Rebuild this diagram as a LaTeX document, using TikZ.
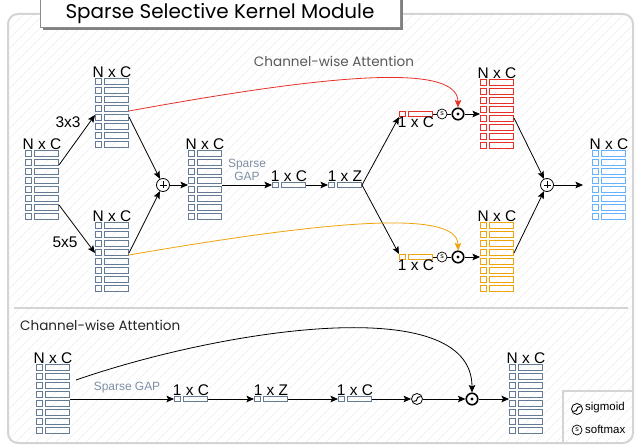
\documentclass[tikz,border=0pt]{standalone}
\usepackage{fontspec}
\setmainfont{Liberation Sans}
\newfontfamily\handfont{Poppins}
\usetikzlibrary{arrows.meta}

\definecolor{slate}{HTML}{657B93}
\definecolor{attnred}{HTML}{E8302A}
\definecolor{attnorange}{HTML}{F0A30A}
\definecolor{attnblue}{HTML}{66B2FF}
\definecolor{framegray}{HTML}{D4D4D4}
\definecolor{gaptext}{HTML}{7D8FA3}
\definecolor{hatch}{HTML}{EFEFEF}

\tikzset{
  lbl/.style={font=\fontsize{15.5}{17}\selectfont, inner sep=0pt},
  gaplbl/.style={font=\fontsize{12}{13.5}\selectfont, inner sep=0pt, text=gaptext, align=center},
  handlbl/.style={font=\handfont\fontsize{13.6}{15}\selectfont, inner sep=0pt},
  legendlbl/.style={font=\fontsize{11.5}{13}\selectfont, inner sep=0pt, anchor=west},
  % a feature map: eight rows, each a small index square and a long channel bar
  tensor/.style={minimum width=34bp, minimum height=70bp, inner sep=0pt, outer sep=0pt,
    label distance=3bp,
    path picture={
      \foreach \i in {0,...,7}{
        \draw[#1, line width=1.15bp]
          ([shift={(0.6bp,{-0.6bp-\i*9bp})}]path picture bounding box.north west)
          rectangle ++(5.9bp,-5.9bp);
        \draw[#1, line width=1.15bp]
          ([shift={(9.5bp,{-0.6bp-\i*9bp})}]path picture bounding box.north west)
          rectangle ++(23.9bp,-5.9bp);
      }}},
  % a single pooled vector
  vec/.style={minimum width=34bp, minimum height=6bp, inner sep=0pt, outer sep=0pt,
    label distance=5bp,
    path picture={
      \draw[#1, line width=1.15bp]
        ([shift={(0.6bp,-0.6bp)}]path picture bounding box.north west) rectangle ++(5.9bp,-4.8bp);
      \draw[#1, line width=1.15bp]
        ([shift={(9.5bp,-0.6bp)}]path picture bounding box.north west) rectangle ++(23.9bp,-4.8bp);
    }},
  link/.style={line width=0.8bp},
  arr/.style={line width=0.8bp, -{Stealth[length=7.5bp,width=6.5bp,inset=1.5bp]}},
  plusop/.style={circle, draw, line width=0.8bp, minimum size=13bp, inner sep=0pt, fill=white,
    path picture={\draw[black, line width=0.7bp]
      ([xshift=-3.5bp]path picture bounding box.center) -- ([xshift=3.5bp]path picture bounding box.center)
      ([yshift=-3.5bp]path picture bounding box.center) -- ([yshift=3.5bp]path picture bounding box.center);}},
  dotop/.style={circle, draw, line width=1.6bp, minimum size=11.5bp, inner sep=0pt, fill=white,
    path picture={\fill[black] (path picture bounding box.center) circle (1.7bp);}},
  softop/.style={circle, draw, line width=0.7bp, minimum size=10bp, inner sep=0pt, fill=white,
    font=\fontsize{7}{7}\selectfont},
  sigop/.style={circle, draw, line width=0.8bp, minimum size=11bp, inner sep=0pt, fill=white,
    path picture={\draw[black, line width=1bp]
      ([shift={(-3.6bp,-2.4bp)}]path picture bounding box.center)
      .. controls ([shift={(2.8bp,-2.6bp)}]path picture bounding box.center)
      and ([shift={(-2.8bp,2.6bp)}]path picture bounding box.center)
      .. ([shift={(3.6bp,2.4bp)}]path picture bounding box.center);}},
}

\begin{document}
\begin{tikzpicture}[x=1bp, y=-1bp]
\useasboundingbox (0,0) rectangle (640,448);

% hatched backdrop inside the rounded frame
\begin{scope}
  \clip[rounded corners=10bp] (8,14) rectangle (633,443);
  \fill[white] (8,14) rectangle (633,443);
  \foreach \k in {-440,-430,...,640}
    \draw[hatch, line width=0.6bp] (\k,448) -- ++(448,-448);
\end{scope}
\draw[framegray, line width=2bp, rounded corners=10bp] (8,14) rectangle (633,443);
\draw[framegray, line width=2bp] (14,308) -- (628,308);
% legend corner
\draw[framegray, line width=1.2bp] (563,442) -- (563,391) -- (632,391);

% title tab
\fill[black!50] (42.5,-3) rectangle (402.5,30);
\filldraw[fill=white, draw=black!45, line width=0.8bp] (40,-3) rectangle (400,27.5);
\node[font=\handfont\fontsize{20}{22}\selectfont, inner sep=0pt] (title) at (220,14) {Sparse Selective Kernel Module};

% ---------------- selective kernel branch ----------------
\node[tensor=slate, label={[lbl]above:N x C}] (in) at (42,185) {};
\node[tensor=slate, label={[lbl]above:N x C}] (b3) at (112,113) {};
\node[tensor=slate, label={[lbl]above:N x C}] (b5) at (112,257) {};
\node[lbl] (k3) at (68,122) {3x3};
\node[lbl] (k5) at (65,242) {5x5};
\node[plusop] (plusL) at (163,185) {};
\node[tensor=slate, label={[lbl]above:N x C}] (mid) at (205,185) {};
\node[gaplbl] (gap) at (247,170) {Sparse\\GAP};
\node[vec=slate, label={[lbl]above:1 x C}] (gC) at (289,185) {};
\node[vec=slate, label={[lbl]above:1 x Z}] (gZ) at (345,185) {};

\node[vec=attnred, label={[lbl]below:1 x C}] (aR) at (416,114) {};
\node[softop] (sR) at (442,114) {s};
\node[dotop] (dR) at (458,114) {};
\node[tensor=attnred, label={[lbl]above:N x C}] (oR) at (497,114) {};

\node[vec=attnorange, label={[lbl]below:1 x C}] (aO) at (416,257) {};
\node[softop] (sO) at (442,257) {s};
\node[dotop] (dO) at (458,257) {};
\node[tensor=attnorange, label={[lbl]above:N x C}] (oO) at (497,257) {};

\node[plusop] (plusR) at (547,185) {};
\node[tensor=attnblue, label={[lbl]above:N x C}] (out) at (609,185) {};

\node[handlbl, text=black!65] (cwaTop) at (334,61) {Channel-wise Attention};

\draw[arr] ([yshift=20bp]in.east) -- ([yshift=-2bp]b3.west);
\draw[arr] ([yshift=-20bp]in.east) -- ([yshift=4bp]b5.west);
\draw[arr] ([yshift=-4bp]b3.east) -- (plusL);
\draw[arr] ([yshift=4bp]b5.east) -- (plusL);
\draw[arr] (plusL) -- (mid.west);
\draw[arr] (mid.east) -- (gC.west);
\draw[arr] (gC.east) -- (gZ.west);
\draw[arr] (gZ.east) -- (aR.south west);
\draw[arr] (gZ.east) -- (aO.north west);
\draw[link] (aR.east) -- (sR) -- (dR);
\draw[arr] (dR) -- (oR.west);
\draw[link] (aO.east) -- (sO) -- (dO);
\draw[arr] (dO) -- (oO.west);
\draw[arr] ([yshift=-4bp]oR.east) -- (plusR);
\draw[arr] ([yshift=4bp]oO.east) -- (plusR);
\draw[arr] (plusR) -- ([xshift=-9bp]out.west);

\draw[arr, attnred] ([yshift=2bp]b3.east) .. controls (310,78) and (458,60) .. (dR.north);
\draw[arr, attnorange] ([yshift=2bp]b5.east) .. controls (320,222) and (458,208) .. (dO.north);

% ---------------- channel-wise attention ----------------
\node[handlbl, text=black!85, anchor=west] (cwaBot) at (20,325) {Channel-wise Attention};
\node[tensor=slate, label={[lbl]above:N x C}] (cin) at (53,399) {};
\node[gaplbl] (cgap) at (127,388) {Sparse GAP};
\node[vec=slate, label={[lbl]above:1 x C}] (cC) at (191,399) {};
\node[vec=slate, label={[lbl]above:1 x Z}] (cZ) at (271,399) {};
\node[vec=slate, label={[lbl]above:1 x C}] (cC2) at (355,399) {};
\node[sigop] (sig) at (417,399) {};
\node[dotop] (cdot) at (472,399) {};
\node[tensor=slate, label={[lbl]above:N x C}] (cout) at (526,399) {};

\draw[arr] (cin.east) -- (cC.west);
\draw[arr] (cC.east) -- (cZ.west);
\draw[arr] (cZ.east) -- (cC2.west);
\draw[arr] (cC2.east) -- (sig);
\draw[arr] (sig) -- (cdot);
\draw[arr] (cdot) -- (cout.west);
\draw[arr] ([shift={(6bp,19bp)}]cin.east) .. controls (220,330) and (472,290) .. (cdot.north);

% legend
\node[sigop] (legSig) at (577,409) {};
\node[legendlbl] (legSigTxt) at (585,408) {sigmoid};
\node[softop] (legSoft) at (577,430) {s};
\node[legendlbl] (legSoftTxt) at (585,429) {softmax};
\end{tikzpicture}
\end{document}
